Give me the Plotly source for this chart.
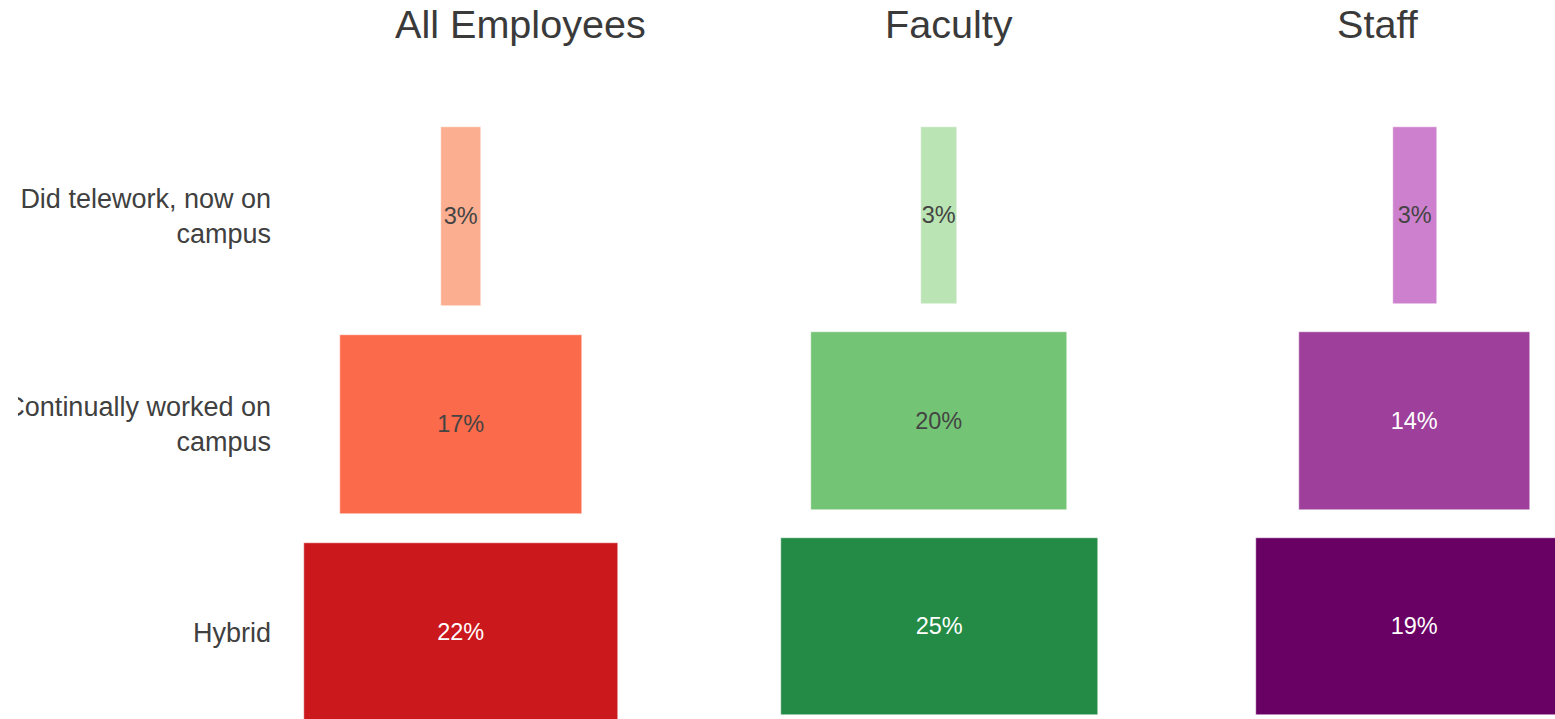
import plotly.graph_objects as go
from plotly.subplots import make_subplots

# ---- data ----
categories = ["Did telework, now on<br>campus", "Continually worked on<br>campus", "Hybrid"]
groups = ["All Employees", "Faculty", "Staff"]
all_employees = [2.8, 17.0, 22.0]
faculty = [2.9, 20.2, 25.0]
staff = [2.7, 14.0, 19.2]

series = [all_employees, faculty, staff]
colors = [
    ["#FCAE91", "#FB6A4A", "#CB181D"],
    ["#BAE4B3", "#74C476", "#238B45"],
    ["#CD80CD", "#9D3F9B", "#690064"],
]
text_colors = [
    ["#444444", "#444444", "#FFFFFF"],
    ["#444444", "#444444", "#FFFFFF"],
    ["#444444", "#FFFFFF", "#FFFFFF"],
]

OFFX, OFFY = 18, 0  # where the figure sits on the page
W, H = 1555 - OFFX, 719 - OFFY
FONT = "Liberation Sans, Arial, sans-serif"

# pixel layout (screen coords) of each panel: (left, right) domain, bar centre, px per percent
panels = [
    (280, 640, 461.0, 314.3 / 22.0),
    (700, 1180, 939.0, 317.0 / 25.0),
    (1200, 1555, 1414.8, 16.5),
]
# y mapping (screen coords): (px of first category centre, px per category)
ymaps = [(216.5, 208.0), (215.5, 205.5), (215.5, 205.5)]
title_x = [520, 949, 1378]
title_y = 24

fig = make_subplots(rows=1, cols=3)

for i, (vals, cols, tcols) in enumerate(zip(series, colors, text_colors)):
    fig.add_trace(
        go.Bar(
            y=categories,
            x=vals,
            base=[-v / 2 for v in vals],
            orientation="h",
            width=0.862,
            marker=dict(color=cols, line=dict(color="white", width=0.5)),
            text=[f"{v:.0f}%" for v in vals],
            textposition="inside",
            insidetextanchor="middle",
            textangle=0,
            constraintext="none",
            textfont=dict(family=FONT, size=23.5, color=tcols),
            hoverinfo="skip",
            showlegend=False,
        ),
        row=1, col=i + 1,
    )

fig.update_layout(
    width=W, height=H,
    margin=dict(l=0, r=0, t=0, b=0, pad=0),
    paper_bgcolor="white", plot_bgcolor="white",
    font=dict(family=FONT, color="#444444"),
    bargap=0,
    template="none",
)

for i, (L, R, c, k) in enumerate(panels):
    xa = "xaxis" if i == 0 else f"xaxis{i+1}"
    ya = "yaxis" if i == 0 else f"yaxis{i+1}"
    L, R, c = L - OFFX, R - OFFX, c - OFFX
    y0, dy = ymaps[i]
    y0 -= OFFY
    top = -y0 / dy
    bottom = top + H / dy
    fig.update_layout(**{
        xa: dict(domain=[L / W, min(R / W, 1.0)], range=[(L - c) / k, (R - c) / k],
                 showgrid=False, zeroline=False, showline=False,
                 showticklabels=False, ticks="", fixedrange=True),
        ya: dict(domain=[0, 1], range=[bottom, top], type="category",
                 categoryorder="array", categoryarray=categories,
                 showgrid=False, zeroline=False, showline=False, ticks="",
                 showticklabels=(i == 0), automargin=False,
                 ticklabelstandoff=8,
                 tickfont=dict(family=FONT, size=27, color="#404040"),
                 fixedrange=True),
    })

for g, tx in zip(groups, title_x):
    fig.add_annotation(
        text=g, x=(tx - OFFX) / W, y=1 - (title_y - OFFY) / H, xref="paper", yref="paper",
        xanchor="center", yanchor="middle", showarrow=False,
        font=dict(family=FONT, size=39.6, color="#3a3a3a"),
    )

fig.write_html(
    "out.html",
    post_script=f"document.body.style.margin='{OFFY}px 0 0 {OFFX}px';"
                "document.body.style.overflow='hidden';",
)
